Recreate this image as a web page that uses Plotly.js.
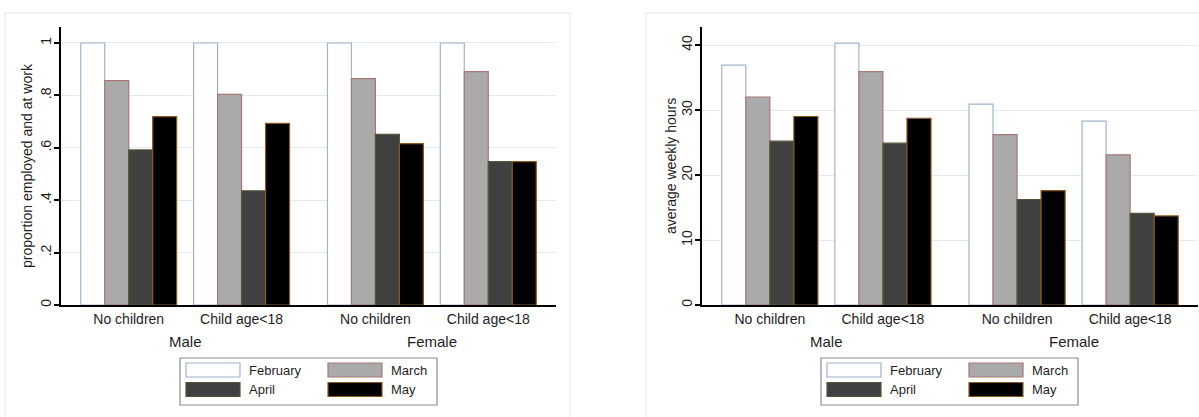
<!DOCTYPE html>
<html><head><meta charset="utf-8">
<script src="https://cdn.plot.ly/plotly-3.0.1.min.js"></script>
<style>html,body{margin:0;padding:0;background:#fff;} #chart{width:1199px;height:417px;}</style>
</head><body><div id="chart"></div>
<script>
// ---- data ----
const genders = ["Male", "Female"];
const subgroups = ["No children", "Child age<18"];
const months = ["February", "March", "April", "May"];

// proportion employed and at work (Male NC, Male C, Female NC, Female C)
const empFeb = [1.00, 1.00, 1.00, 1.00];
const empMar = [0.856, 0.804, 0.864, 0.891];
const empApr = [0.592, 0.436, 0.651, 0.547];
const empMay = [0.719, 0.693, 0.616, 0.547];

// average weekly hours
const hrsFeb = [36.9, 40.3, 30.9, 28.3];
const hrsMar = [32.0, 35.9, 26.2, 23.1];
const hrsApr = [25.2, 24.9, 16.2, 14.1];
const hrsMay = [29.0, 28.7, 17.6, 13.7];

const empTickVals = [0, 0.2, 0.4, 0.6, 0.8, 1];
const empTickText = ["0", ".2", ".4", ".6", ".8", "1"];
const hrsTickVals = [0, 10, 20, 30, 40];
const hrsTickText = ["0", "10", "20", "30", "40"];

const empTitle = "proportion employed and at work";
const hrsTitle = "average weekly hours";

// ---- styling ----
const W = 1199, H = 417;
const FONT = "Liberation Sans, Arial, sans-serif";
const TXT = "#1e1e1e";
const fills = ["#ffffff", "#aaaaaa", "#404040", "#000000"];
const lines = ["#9fb4cd", "#a77777", "#55553a", "#8a5a1c"];
const genderGap = 0.186;   // extra gap between gender blocks (in category units)

// category positions
const pos = [], tickText = [];
genders.forEach((g, gi) => subgroups.forEach((s, si) => {
  pos.push(gi * subgroups.length + si + gi * genderGap);
  tickText.push(s);
}));
const xr = [-0.6, pos[pos.length - 1] + 0.6];

const panels = [
  {series: [empFeb, empMar, empApr, empMay], ticks: empTickVals, text: empTickText, title: empTitle, ymax: 1.061, dom: [61, 556], titleX: 27},
  {series: [hrsFeb, hrsMar, hrsApr, hrsMay], ticks: hrsTickVals, text: hrsTickText, title: hrsTitle, ymax: 42.77, dom: [702, 1198], titleX: 671}
];

const yBottom = 305, yTop = 27;
const traces = [];
const layout = {
  width: W, height: H,
  margin: {l: 0, r: 0, t: 0, b: 0},
  paper_bgcolor: "#ffffff", plot_bgcolor: "#ffffff",
  barmode: "group", bargap: 0.15, bargroupgap: 0,
  showlegend: false,
  font: {family: FONT, size: 14, color: TXT},
  shapes: [], annotations: []
};

const px = x => x / W;
const py = y => 1 - y / H;

panels.forEach((p, pi) => {
  const xa = pi === 0 ? "x" : "x2", ya = pi === 0 ? "y" : "y2";
  const xk = pi === 0 ? "xaxis" : "xaxis2", yk = pi === 0 ? "yaxis" : "yaxis2";
  p.series.forEach((vals, mi) => {
    traces.push({
      type: "bar", name: months[mi], x: pos, y: vals,
      xaxis: xa, yaxis: ya,
      marker: {color: fills[mi], line: {color: lines[mi], width: 1.2}},
      hoverinfo: "x+y+name"
    });
  });
  layout[xk] = {
    domain: [px(p.dom[0]), px(p.dom[1])], anchor: ya, range: xr,
    tickvals: pos, ticktext: tickText, ticks: "", showgrid: false, zeroline: false,
    showline: true, linecolor: "#000", linewidth: 2,
    tickfont: {size: 14, color: TXT}, fixedrange: true
  };
  layout[yk] = {
    domain: [py(yBottom), py(yTop)], anchor: xa, range: [0, p.ymax],
    tickvals: p.ticks, ticktext: p.text, tickangle: -90,
    ticks: "outside", ticklen: 5, tickwidth: 2, tickcolor: "#000",
    ticklabelstandoff: -3,
    showline: true, linecolor: "#000", linewidth: 2,
    showgrid: true, gridcolor: "#e3eaf1", gridwidth: 1, zeroline: false,
    tickfont: {size: 14, color: TXT},
    fixedrange: true
  };
  // y axis title
  layout.annotations.push({
    xref: "paper", yref: "paper", x: px(p.titleX), y: py((yBottom + yTop) / 2),
    xanchor: "center", yanchor: "middle", textangle: -90, showarrow: false,
    text: p.title, font: {size: 14, color: TXT}
  });
  // gender labels
  genders.forEach((g, gi) => {
    const ps = pos.slice(gi * subgroups.length, (gi + 1) * subgroups.length);
    layout.annotations.push({
      xref: xa, yref: "paper", x: ps.reduce((a, b) => a + b, 0) / ps.length,
      y: py(341), yanchor: "middle", xanchor: "center", showarrow: false,
      text: g, font: {size: 15, color: TXT}
    });
  });
  // panel frame
  const frameL = p.dom[0] - 56, frameR = pi === 0 ? 570 : 1260;
  layout.shapes.push({type: "rect", xref: "paper", yref: "paper", layer: "below",
    x0: px(frameL), x1: px(frameR), y0: -0.2, y1: py(13),
    line: {color: "#ededed", width: 1.5}, fillcolor: "rgba(0,0,0,0)"});
  // legend (manual 2x2 grid)
  const L = p.dom[0];
  layout.shapes.push({type: "rect", xref: "paper", yref: "paper",
    x0: px(L + 119), x1: px(L + 376), y0: py(405), y1: py(358),
    line: {color: "#8c8c8c", width: 1.2}, fillcolor: "#ffffff"});
  months.forEach((m, mi) => {
    const col = mi % 2, row = Math.floor(mi / 2);
    const sx = L + 125 + col * 142, sy = 363 + row * 19.5;
    layout.shapes.push({type: "rect", xref: "paper", yref: "paper",
      x0: px(sx), x1: px(sx + 54), y0: py(sy + 14), y1: py(sy),
      line: {color: lines[mi], width: 1.2}, fillcolor: fills[mi]});
    layout.annotations.push({xref: "paper", yref: "paper", x: px(sx + 61), y: py(sy + 7),
      xanchor: "left", yanchor: "middle", showarrow: false, text: m,
      font: {size: 13, color: TXT}});
  });
});

Plotly.newPlot("chart", traces, layout, {displayModeBar: false, staticPlot: true});
</script>
</body></html>
